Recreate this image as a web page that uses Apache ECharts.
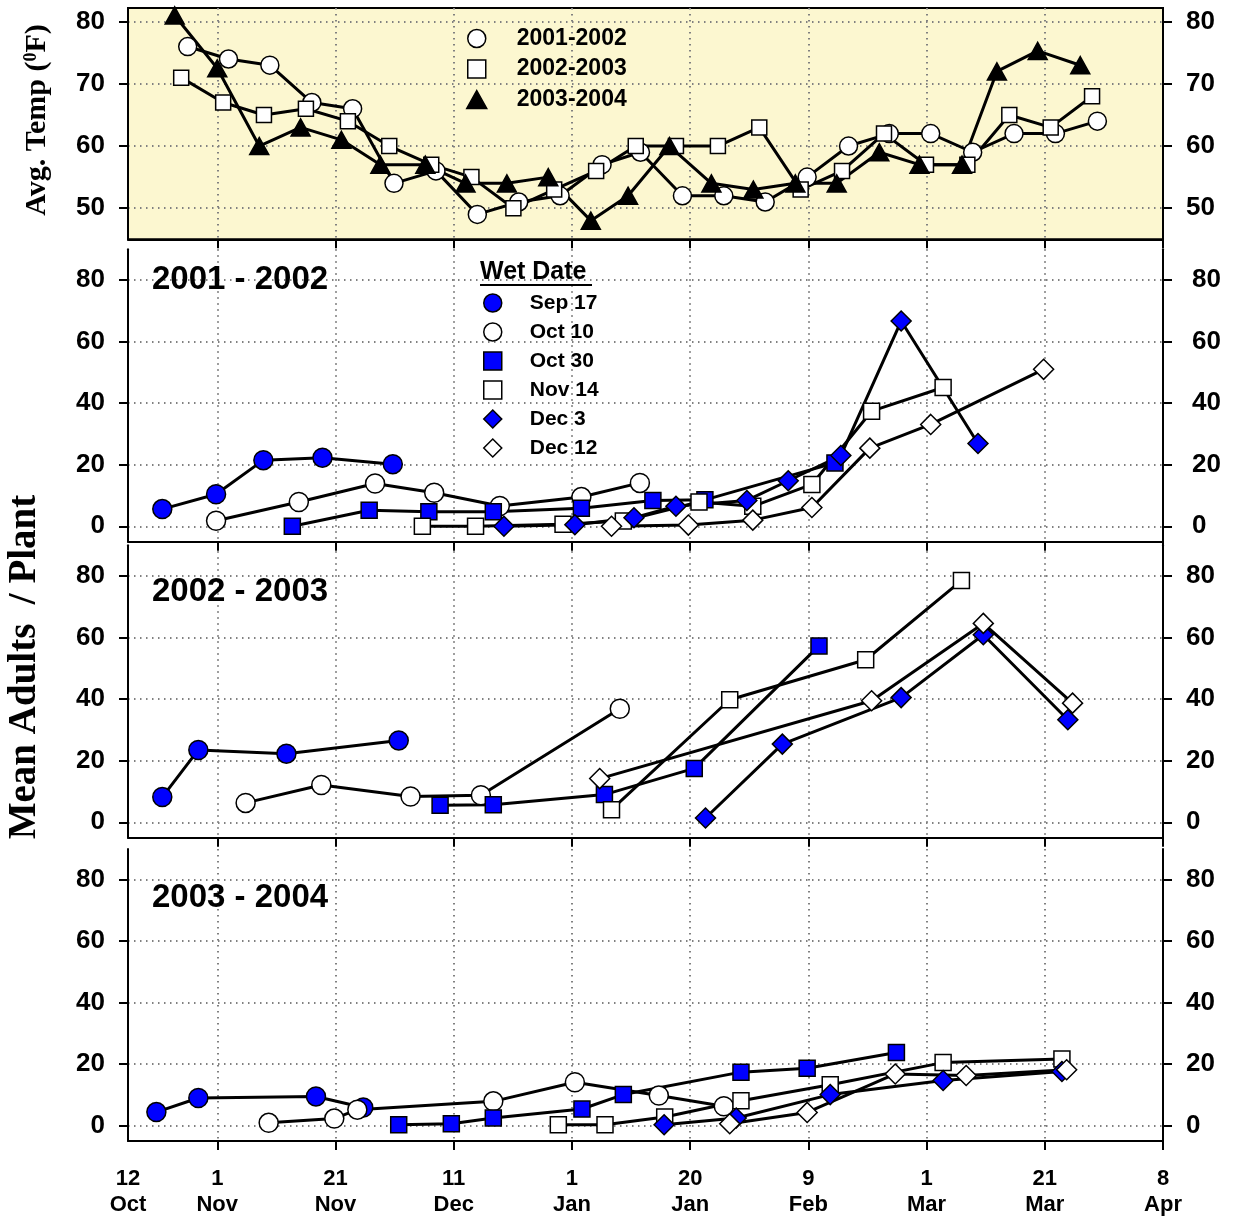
<!DOCTYPE html>
<html><head><meta charset="utf-8">
<script src="https://cdn.jsdelivr.net/npm/echarts@6/dist/echarts.min.js"></script>
<style>html,body{margin:0;padding:0;background:#fff}#c{width:1233px;height:1218px}</style>
</head><body><div id="c"></div>
<script>
// ---- axis ticks / labels (x in days counted from 12 Oct) ----
const dateLabelDays = [4.9, 20, 40, 60, 80, 100, 120, 140, 160, 180];
const dateLabels = ['12\nOct', '1\nNov', '21\nNov', '11\nDec', '1\nJan', '20\nJan', '9\nFeb', '1\nMar', '21\nMar', '8\nApr'];
const dateTickDays = [20, 40, 60, 80, 100, 120, 140, 160, 180];
const tempTicks = [50, 60, 70, 80];
const adultTicks = [0, 20, 40, 60, 80];
const seasonNames = ['2001-2002', '2002-2003', '2003-2004'];
const panelTitles = ['2001 - 2002', '2002 - 2003', '2003 - 2004'];
const wetDates = ['Sep 17', 'Oct 10', 'Oct 30', 'Nov 14', 'Dec 3', 'Dec 12'];

// ---- average temperature [day, degF] ----
const temp2001 = [[15.0,76],[21.9,74],[28.9,73],[36.0,67],[42.9,66],[49.9,54],[57.0,56],[64.0,49],[71.0,51],[78.0,52],[85.1,57],[91.6,59],[98.7,52],[105.7,52],[112.7,51],[119.8,55],[126.8,60],[133.7,62],[140.7,62],[147.8,59],[154.8,62],[161.8,62],[168.9,64]];
const temp2002 = [[13.9,71],[21.0,67],[27.9,65],[35.0,66],[42.1,64],[49.1,60],[56.2,57],[63.0,55],[70.1,50],[77.0,53],[84.1,56],[90.8,60],[97.6,60],[104.7,60],[111.7,63],[118.7,53],[125.7,56],[132.8,62],[139.9,57],[146.9,57],[154.0,65],[161.0,63],[168.0,68]];
const temp2003 = [[12.8,81],[20.0,72.5],[27.1,60],[34.1,63],[41.0,61],[47.6,57],[55.2,57],[62.0,54],[69.0,54],[76.0,55],[83.2,48],[89.5,52],[96.5,60],[103.6,54],[110.7,53],[117.8,54],[124.8,54],[132.0,59],[138.8,57],[146.0,57],[151.9,72],[158.8,75.3],[166.0,73]];

// ---- mean adults / plant, 2001-2002 ----
const a01_sep17 = [[10.7,5.6],[19.8,10.4],[27.8,21.5],[37.8,22.3],[49.7,20.2]];
const a01_oct10 = [[19.8,1.8],[33.8,7.9],[46.7,13.9],[56.7,10.9],[67.8,6.6],[81.6,9.5],[91.5,14.1]];
const a01_oct30 = [[32.7,0],[45.7,5.2],[55.8,4.7],[66.7,4.7],[81.6,5.9],[93.7,8.4],[102.5,8.6],[124.5,20.6]];
const a01_nov14 = [[54.7,0],[63.7,0],[78.5,0.7],[88.7,1.7],[101.5,7.9],[110.6,6.5],[120.6,13.6],[130.7,37.4],[142.8,45.1]];
const a01_dec3  = [[68.5,0],[80.5,0.5],[90.5,2.8],[97.6,6.5],[109.6,8.4],[116.6,14.8],[125.5,23.0],[135.7,66.7],[148.7,26.9]];
const a01_dec12 = [[86.7,0],[99.7,0.4],[110.6,2.0],[120.6,6.1],[130.4,25.4],[140.7,33.1],[159.8,51.0]];

// ---- 2002-2003 ----
const a02_sep17 = [[10.7,8.2],[16.8,23.5],[31.7,22.3],[50.7,26.6]];
const a02_oct10 = [[24.8,6.3],[37.6,12.1],[52.7,8.4],[64.6,8.8],[88.1,36.9]];
const a02_oct30 = [[57.7,5.5],[66.7,5.7],[85.5,9.0],[100.7,17.5],[121.8,57.3]];
const a02_nov14 = [[86.7,4.1],[106.7,39.8],[129.7,52.8],[145.9,78.5]];
const a02_dec3  = [[102.6,1.4],[115.6,25.4],[135.7,40.5],[149.6,60.9],[163.9,33.3]];
const a02_dec12 = [[84.7,14.2],[130.7,39.5],[149.6,64.6],[164.7,38.7]];

// ---- 2003-2004 ----
const a03_sep17 = [[9.7,4.4],[16.8,9.0],[36.7,9.5],[44.7,5.9]];
const a03_oct10 = [[28.7,0.9],[39.8,2.3],[43.7,5.2],[66.7,7.9],[80.5,14.1],[94.7,9.8],[105.7,6.3]];
const a03_oct30 = [[50.7,0.3],[59.6,0.6],[66.7,2.5],[81.7,5.4],[88.7,10.1],[108.6,17.4],[119.8,18.7],[134.9,23.8]];
const a03_nov14 = [[77.7,0.3],[85.6,0.3],[95.7,2.8],[108.6,8.1],[123.7,13.3],[142.8,20.5],[162.9,21.7]];
const a03_dec3  = [[95.6,0.3],[107.8,2.5],[123.7,10.1],[142.8,14.7],[162.9,17.6]];
const a03_dec12 = [[106.7,0.6],[119.8,4.3],[134.7,16.8],[146.7,16.3],[163.7,18.2]];

const FONT = '"Liberation Sans", Arial, sans-serif';
const SERIF = '"Liberation Serif", "Times New Roman", serif';
const BLUE = '#0000ff', WHITE = '#ffffff';
const SQ = 'path://M0,0L10,0L10,10L0,10Z';
const DI = 'path://M5,0L10,5L5,10L0,5Z';
const TR = 'path://M5,0L10,9L0,9Z';

const wetStyle = [
  {symbol: 'circle', size: 19, fill: BLUE},
  {symbol: 'circle', size: 19, fill: WHITE},
  {symbol: SQ, size: 16, fill: BLUE},
  {symbol: SQ, size: 16, fill: WHITE},
  {symbol: DI, size: 20, fill: BLUE},
  {symbol: DI, size: 20, fill: WHITE}
];
const tempStyle = [
  {symbol: 'circle', size: 18, fill: WHITE},
  {symbol: SQ, size: 15, fill: WHITE},
  {symbol: TR, size: 19, fill: '#000'}
];

const gridTops = [8, 249.3, 545.2, 849];
const gridHeights = [231.3, 292.4, 292.5, 292.6];
const XMIN = 4.9, XMAX = 180;

const dotted = {color: '#808080', width: 2, type: [1.5, 4.5]};

const grids = gridTops.map((t, i) => ({
  left: 128, width: 1035, top: t, height: gridHeights[i],
  show: i === 0, backgroundColor: '#fcf7d0', borderColor: '#000', borderWidth: 2
}));

const xAxes = gridTops.map((t, i) => ({
  type: 'value', gridIndex: i, min: XMIN, max: XMAX,
  axisLine: {show: true, onZero: false, lineStyle: {color: '#000', width: 2}},
  axisTick: {show: true, inside: false, length: 9, lineStyle: {color: '#000', width: 2}, customValues: dateTickDays},
  axisLabel: {
    show: i === 3, customValues: dateLabelDays, margin: 25,
    color: '#000', fontFamily: FONT, fontWeight: 'bold', fontSize: 22, lineHeight: 26,
    formatter: v => { const k = dateLabelDays.findIndex(d => Math.abs(d - v) < 0.01); return k >= 0 ? dateLabels[k] : ''; }
  },
  splitLine: {show: true, lineStyle: dotted}
}));

const yAxes = [];
gridTops.forEach((t, i) => {
  const isTemp = i === 0;
  const base = {
    type: 'value', gridIndex: i,
    min: isTemp ? 45 : -5, max: isTemp ? 82.2 : 90,
    axisLine: {show: true, onZero: false, lineStyle: {color: '#000', width: 2}},
    axisTick: {show: true, inside: false, length: 9, lineStyle: {color: '#000', width: 2}, customValues: isTemp ? tempTicks : adultTicks},
    axisLabel: {show: true, customValues: isTemp ? tempTicks : adultTicks, color: '#000', fontFamily: FONT, fontWeight: 'bold', fontSize: 26, margin: 23}
  };
  yAxes.push(Object.assign({}, base, {position: 'left', splitLine: {show: true, lineStyle: dotted}}));
  yAxes.push(Object.assign({}, base, {position: 'right', splitLine: {show: false},
    axisLabel: Object.assign({}, base.axisLabel, {margin: i === 1 ? 29 : 23})}));
});

function mk(name, data, gi, st) {
  return {
    type: 'line', name: name, data: data, xAxisIndex: gi, yAxisIndex: gi * 2,
    symbol: st.symbol, symbolSize: st.size, symbolKeepAspect: true,
    showSymbol: true, showAllSymbol: true, clip: false,
    lineStyle: {color: '#000', width: 3},
    itemStyle: {color: st.fill, borderColor: '#000', borderWidth: 1.5},
    emphasis: {disabled: true}
  };
}

const series = [];
[temp2001, temp2002, temp2003].forEach((d, k) => series.push(mk(seasonNames[k], d, 0, tempStyle[k])));
const panels = [
  [a01_sep17, a01_oct10, a01_oct30, a01_nov14, a01_dec3, a01_dec12],
  [a02_sep17, a02_oct10, a02_oct30, a02_nov14, a02_dec3, a02_dec12],
  [a03_sep17, a03_oct10, a03_oct30, a03_nov14, a03_dec3, a03_dec12]
];
panels.forEach((arrs, p) => arrs.forEach((d, k) => series.push(mk(wetDates[k], d, p + 1, wetStyle[k]))));

const legendText = {color: '#000', fontFamily: FONT, fontWeight: 'bold'};
const legends = [
  {
    orient: 'vertical', left: 461, top: 22, itemWidth: 70, itemHeight: 18, itemGap: 7.5,
    selectedMode: false, textStyle: Object.assign({fontSize: 23}, legendText),
    data: seasonNames.map((n, k) => ({name: n, icon: tempStyle[k].symbol,
      itemStyle: {color: tempStyle[k].fill, borderColor: '#000', borderWidth: 1.5}}))
  },
  {
    orient: 'vertical', left: 478, top: 287.5, itemWidth: 64, itemHeight: 18, itemGap: 8,
    selectedMode: false, textStyle: Object.assign({fontSize: 21}, legendText),
    data: wetDates.map((n, k) => ({name: n, icon: wetStyle[k].symbol,
      itemStyle: {color: wetStyle[k].fill, borderColor: '#000', borderWidth: 1.5}}))
  }
];

const titleY = [280, 592, 898];
const graphics = panelTitles.map((t, k) => ({
  type: 'text', x: 152, y: titleY[k], z: 100,
  style: {text: t, fill: '#000', font: 'bold 33px ' + FONT, align: 'left', verticalAlign: 'middle'}
}));
graphics.push({type: 'text', x: 480, y: 272, z: 100,
  style: {text: 'Wet Date', fill: '#000', font: 'bold 25px ' + FONT, align: 'left', verticalAlign: 'middle'}});
graphics.push({type: 'line', z: 100, shape: {x1: 480, y1: 285, x2: 592, y2: 285}, style: {stroke: '#000', lineWidth: 2}});
graphics.push({type: 'text', x: 25, y: 667, rotation: Math.PI / 2, z: 100,
  style: {text: 'Mean Adults  / Plant', fill: '#000', font: 'bold 39px ' + SERIF, align: 'center', verticalAlign: 'middle'}});
graphics.push({type: 'text', x: 37, y: 120, rotation: Math.PI / 2, z: 100,
  style: {text: '{n|Avg. Temp (}{s|0}{n|F)}', align: 'center', verticalAlign: 'middle',
    rich: {n: {fill: '#000', font: 'bold 30px ' + SERIF, verticalAlign: 'bottom'},
           s: {fill: '#000', font: 'bold 18px ' + SERIF, verticalAlign: 'top'}}}});

const chart = echarts.init(document.getElementById('c'), null, {renderer: 'canvas'});
chart.setOption({
  animation: false,
  backgroundColor: '#fff',
  grid: grids, xAxis: xAxes, yAxis: yAxes,
  legend: legends,
  series: series,
  graphic: graphics
});
</script></body></html>
